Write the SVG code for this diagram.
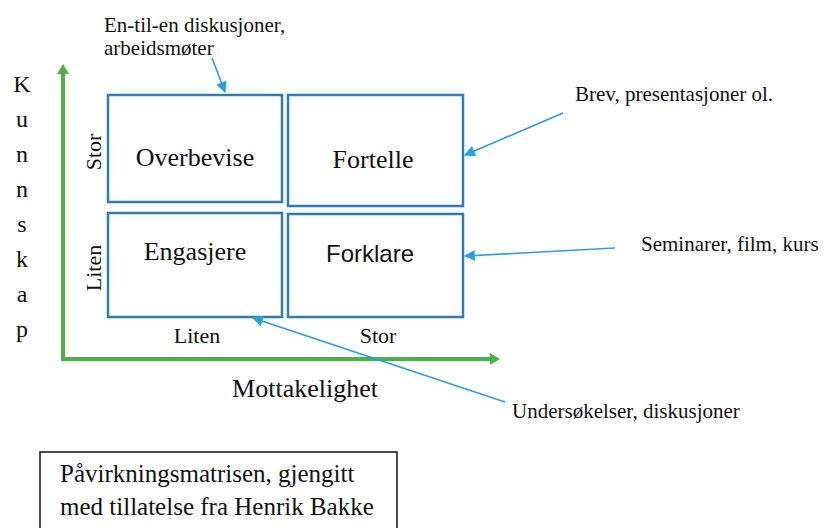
<svg xmlns="http://www.w3.org/2000/svg" width="826" height="528" viewBox="0 0 826 528">
<style>
.box{fill:#fff;stroke:#2e7bb8;stroke-width:2.5}
.lbl{font-size:26px;text-anchor:middle}
.ann{font-size:21px}
.ax{font-size:22px;text-anchor:middle}
.k{font-size:24px;text-anchor:middle}
.arr{stroke:#2aa0da;stroke-width:1.6;fill:none;marker-end:url(#ah)}
.axis{stroke:#4cb048;stroke-width:4;fill:none}
</style>
<defs>
<marker id="ah" viewBox="0 0 10 10" refX="9" refY="5" markerWidth="14" markerHeight="11" markerUnits="userSpaceOnUse" orient="auto">
<path d="M0,0 L10,5 L0,10 z" fill="#2aa0da"/>
</marker>
</defs>
<rect width="826" height="528" fill="#fff"/>
<g font-family="Liberation Serif, DejaVu Serif, serif" fill="#111">
<g id="axes">
<path class="axis" d="M63,72 V359 H492"/>
<path d="M57,74 L63,64 L69,74 z" fill="#4cb048"/>
<path d="M490,353 L500,359 L490,365 z" fill="#4cb048"/>
</g>
<g id="ylabel" class="k">
<text x="22" y="92">K</text>
<text x="22" y="127">u</text>
<text x="22" y="162">n</text>
<text x="22" y="197">n</text>
<text x="22" y="232">s</text>
<text x="22" y="267">k</text>
<text x="22" y="302">a</text>
<text x="22" y="337">p</text>
</g>
<g id="axislabels">
<text class="ax" transform="translate(101,152) rotate(-90)">Stor</text>
<text class="ax" transform="translate(101,268) rotate(-90)">Liten</text>
<text class="ax" x="197" y="343">Liten</text>
<text class="ax" x="378" y="343">Stor</text>
<text x="305" y="397" font-size="26" text-anchor="middle">Mottakelighet</text>
</g>
<g id="overbevise">
<rect class="box" x="108" y="95" width="174" height="107"/>
<text class="lbl" x="195" y="166">Overbevise</text>
</g>
<g id="fortelle">
<rect class="box" x="288" y="95" width="175" height="111"/>
<text class="lbl" x="373" y="168">Fortelle</text>
</g>
<g id="engasjere">
<rect class="box" x="108" y="213" width="174" height="104"/>
<text class="lbl" x="195" y="260">Engasjere</text>
</g>
<g id="forklare">
<rect class="box" x="288" y="214" width="175" height="103"/>
<text x="370" y="262" font-family="Liberation Sans, Arial, sans-serif" font-size="24" text-anchor="middle">Forklare</text>
</g>
<g id="annotations" class="ann">
<text x="104" y="32">En-til-en diskusjoner,</text>
<text x="104" y="55">arbeidsmøter</text>
<text x="575" y="101">Brev, presentasjoner ol.</text>
<text x="641" y="251">Seminarer, film, kurs</text>
<text x="512" y="418">Undersøkelser, diskusjoner</text>
</g>
<g id="connectors">
<line class="arr" x1="212" y1="58" x2="225" y2="92"/>
<line class="arr" x1="563" y1="113" x2="465" y2="155"/>
<line class="arr" x1="615" y1="248" x2="465" y2="256"/>
<line class="arr" x1="505" y1="402" x2="253" y2="318"/>
</g>
<g id="caption">
<rect x="40" y="452" width="357" height="80" fill="#fff" stroke="#111" stroke-width="1.5"/>
<text x="60" y="482" font-size="25">Påvirkningsmatrisen, gjengitt</text>
<text x="60" y="515" font-size="25">med tillatelse fra Henrik Bakke</text>
</g>
</g>
</svg>
